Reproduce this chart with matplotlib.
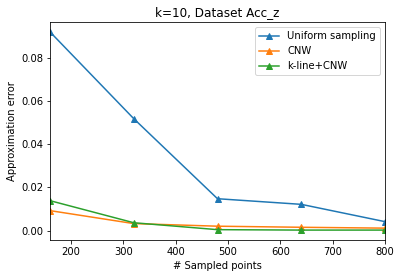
import matplotlib
matplotlib.use("Agg")
import matplotlib.pyplot as plt

sampled_points = [160, 320, 480, 640, 800]
uniform = [0.0919, 0.0518, 0.0148, 0.0122, 0.0042]
cnw = [0.0093, 0.0033, 0.0021, 0.0016, 0.0012]
kline_cnw = [0.0139, 0.0037, 0.0005, 0.0003, 0.0003]

fig = plt.figure(figsize=(401/72, 278/72), dpi=72)
ax = fig.add_axes([50/401, 1-240/278, 335/401, 218/278])
ax.plot(sampled_points, uniform, marker='^', label='Uniform sampling')
ax.plot(sampled_points, cnw, marker='^', label='CNW')
ax.plot(sampled_points, kline_cnw, marker='^', label='k-line+CNW')
ax.set_xlim(160, 800)
ax.set_title('k=10, Dataset Acc_z')
ax.set_xlabel('# Sampled points')
ax.set_ylabel('Approximation error')
ax.legend(loc='upper right')
fig.savefig('out.png', dpi=72)
